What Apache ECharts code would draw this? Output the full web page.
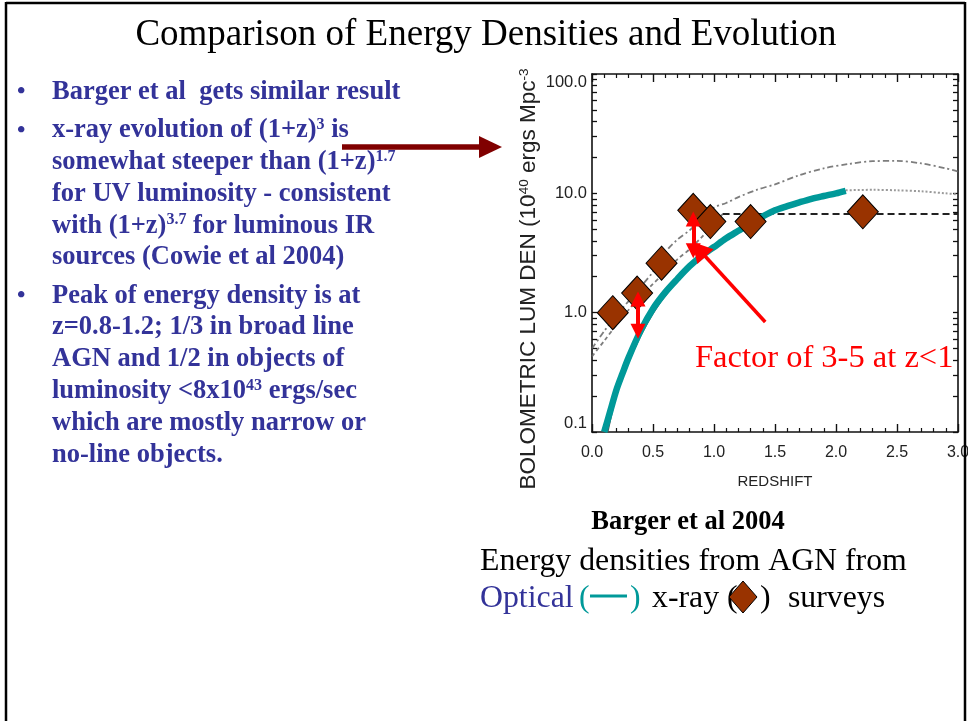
<!DOCTYPE html>
<html>
<head>
<meta charset="utf-8">
<script src="https://cdn.jsdelivr.net/npm/echarts@6/dist/echarts.min.js"></script>
<style>
  html, body { margin: 0; padding: 0; background: #ffffff; }
  #chart { width: 968px; height: 721px; }
</style>
</head>
<body>
<div id="chart"></div>
<script>
// AGN bolometric luminosity density vs redshift (Barger et al 2004)

// x-ray survey points (10^40 ergs Mpc^-3)
const xrayZ   = [0.17, 0.37, 0.57, 0.83, 0.97, 1.30, 2.22];
const xrayLum = [1.0, 1.46, 2.6, 7.2, 5.8, 5.8, 7.0];

// optical survey curve
const opticalZ   = [0.10, 0.15, 0.20, 0.25, 0.30, 0.40, 0.50, 0.60, 0.70, 0.80, 0.90, 1.00, 1.10, 1.20, 1.30, 1.40, 1.50, 1.60, 1.70, 1.80, 1.90, 2.00, 2.08];
const opticalLum = [0.10, 0.15, 0.225, 0.31, 0.42, 0.71, 1.08, 1.48, 1.92, 2.45, 3.0, 3.55, 4.2, 4.85, 5.6, 6.4, 7.2, 7.8, 8.4, 9.0, 9.5, 10.0, 10.5];

// thin grey model underneath the optical curve, and its dotted high-z extension
const modelLowZ    = [0.13, 0.20, 0.30, 0.40, 0.50, 0.60, 0.80, 1.00, 1.20, 1.50, 1.80, 2.08];
const modelLowLum  = [0.10, 0.20, 0.38, 0.64, 0.98, 1.38, 2.35, 3.5, 4.8, 7.1, 8.9, 10.5];
const modelHighZ   = [2.08, 2.30, 2.50, 2.70, 2.90, 3.00];
const modelHighLum = [10.6, 10.7, 10.6, 10.4, 10.0, 9.8];

// steeper dash-dot model
const steepZ   = [0.0, 0.1, 0.2, 0.3, 0.4, 0.5, 0.6, 0.7, 0.8, 0.9, 1.0, 1.1, 1.2, 1.35, 1.5, 1.7, 1.9, 2.1, 2.3, 2.5, 2.7, 2.9, 3.0];
const steepLum = [0.5, 0.7, 0.95, 1.25, 1.65, 2.2, 3.2, 4.1, 4.9, 6.2, 7.6, 8.3, 9.3, 10.7, 11.9, 14.2, 16.2, 17.6, 18.6, 18.7, 17.8, 16.2, 15.2];

// x-ray evolution model: rising part, then flat plateau
const riseZ     = [0.0, 0.1, 0.25, 0.35, 0.475, 0.6, 0.7, 0.8, 0.9, 1.0, 1.07];
const riseLum   = [0.43, 0.58, 0.92, 1.2, 1.64, 2.2, 2.8, 3.4, 4.3, 5.5, 6.7];
const plateauZ   = [1.07, 3.0];
const plateauLum = [6.7, 6.7];

// "factor of 3-5" arrows (shaft ends; arrow heads sit on top of these)
const factorZ      = [0.377, 0.83];
const factorTop    = [1.30, 6.1];
const factorBottom = [0.70, 3.3];
const pointerFrom  = [1.42, 0.835];
const pointerTo    = [0.875, 3.4];

// axis tick labels
const xTickLabels = ['0.0', '0.5', '1.0', '1.5', '2.0', '2.5', '3.0'];
const yTickLabels = ['0.1', '1.0', '10.0', '100.0'];

const pairs = (xs, ys) => xs.map((x, i) => [x, ys[i]]);

// log-axis tick marks: every decade plus 2..9 within each decade
const logTicks = [];
[0.1, 1, 10].forEach(d => { for (let k = 1; k <= 9; k++) logTicks.push(+(d * k).toFixed(3)); });
logTicks.push(100);

const AXIS_FONT = '"Liberation Sans", Arial, sans-serif';
const SERIF = '"Liberation Serif", "Times New Roman", serif';
const BLUE = '#333399';

// bullet text on the left
const bulletLines = [
  { t: 'Barger et al  gets similar result', bullet: true },
  { t: 'x-ray evolution of (1+z){s|3} is', bullet: true },
  { t: 'somewhat steeper than (1+z){s|1.7}' },
  { t: 'for UV luminosity - consistent' },
  { t: 'with (1+z){s|3.7} for luminous IR' },
  { t: 'sources (Cowie et al 2004)' },
  { t: 'Peak of energy density is at', bullet: true },
  { t: 'z=0.8-1.2; 1/3 in broad line' },
  { t: 'AGN and 1/2 in objects of' },
  { t: 'luminosity <8x10{s|43} ergs/sec' },
  { t: 'which are mostly narrow or' },
  { t: 'no-line objects.' }
];

function txt(x, y, text, font, fill, extra) {
  return {
    type: 'text', x: x, y: y, z: 100,
    style: Object.assign({
      text: text, font: font, fill: fill,
      textAlign: 'left', textVerticalAlign: 'middle',
      align: 'left', verticalAlign: 'middle'
    }, extra || {})
  };
}

const graphics = [];
// slide frame
graphics.push({ type: 'line', z: 100, shape: { x1: 6, y1: 2, x2: 6, y2: 721 }, style: { stroke: '#000', lineWidth: 2.5 } });
graphics.push({ type: 'line', z: 100, shape: { x1: 6, y1: 3, x2: 965, y2: 3 }, style: { stroke: '#000', lineWidth: 2.5 } });
graphics.push({ type: 'line', z: 100, shape: { x1: 965, y1: 2, x2: 965, y2: 721 }, style: { stroke: '#000', lineWidth: 2.5 } });

// title
graphics.push(txt(486, 35, 'Comparison of Energy Densities and Evolution', '37px ' + SERIF, '#000',
  { textAlign: 'center', align: 'center' }));

// bullets
let ly = 92;
bulletLines.forEach((ln, i) => {
  if (i > 0) ly += 31.8 + (ln.bullet ? 6.5 : 0);
  if (ln.bullet) graphics.push(txt(17, ly, '\u2022', 'bold 24px ' + SERIF, BLUE));
  graphics.push(txt(52, ly, ln.t, 'bold 26.5px ' + SERIF, BLUE, {
    rich: {
      s: { font: 'bold 16px ' + SERIF, fontSize: 16, fontWeight: 'bold', fontFamily: SERIF, fill: BLUE, verticalAlign: 'top' }
    }
  }));
});

// dark red pointer towards the plot
graphics.push({ type: 'line', z: 101, shape: { x1: 342, y1: 147, x2: 482, y2: 147 }, style: { stroke: '#800000', lineWidth: 5.5 } });
graphics.push({ type: 'polygon', z: 101, shape: { points: [[479, 136], [502, 147], [479, 158]] }, style: { fill: '#800000' } });

// y-axis title (rotated)
graphics.push({
  type: 'text', x: 529, y: 279, rotation: Math.PI / 2, z: 100,
  style: {
    text: 'BOLOMETRIC LUM DEN (10{s|40} ergs Mpc{s|-3}',
    font: '22.5px ' + AXIS_FONT, fill: '#222',
    textAlign: 'center', textVerticalAlign: 'middle', align: 'center', verticalAlign: 'middle',
    rich: { s: { font: '13.5px ' + AXIS_FONT, fontSize: 13.5, fontFamily: AXIS_FONT, fill: '#222', verticalAlign: 'top' } }
  }
});

// annotation inside the plot
graphics.push(txt(695, 358, 'Factor of 3-5 at z<1', '32.5px ' + SERIF, '#ff0000'));

// captions under the plot
graphics.push(txt(688, 522, 'Barger et al 2004', 'bold 26.5px ' + SERIF, '#000', { textAlign: 'center', align: 'center' }));
graphics.push(txt(480, 562, 'Energy densities from AGN from', '31.8px ' + SERIF, '#000'));
graphics.push(txt(480, 599, 'Optical', '31.8px ' + SERIF, BLUE));
graphics.push(txt(579, 599, '(', '31.8px ' + SERIF, '#009999'));
graphics.push({ type: 'line', z: 100, shape: { x1: 590, y1: 596, x2: 627, y2: 596 }, style: { stroke: '#009999', lineWidth: 3 } });
graphics.push(txt(630, 599, ')', '31.8px ' + SERIF, '#009999'));
graphics.push(txt(652, 599, 'x-ray (', '31.8px ' + SERIF, '#000'));
graphics.push({ type: 'polygon', z: 101, shape: { points: [[743, 581], [757, 597], [743, 613], [729, 597]] }, style: { fill: '#993300', stroke: '#000', lineWidth: 1 } });
graphics.push(txt(760, 599, ')', '31.8px ' + SERIF, '#000'));
graphics.push(txt(788, 599, 'surveys', '31.8px ' + SERIF, '#000'));

const xAxisBase = {
  type: 'value', min: 0, max: 3, interval: 0.5, gridIndex: 0, offset: 0,
  axisLine: { show: true, onZero: false, lineStyle: { color: '#111', width: 1.6 } },
  axisTick: { show: true, inside: true, length: 8, lineStyle: { color: '#111', width: 1.4 } },
  minorTick: { show: true, splitNumber: 5, length: 4, lineStyle: { color: '#111', width: 1.2 } },
  splitLine: { show: false }
};

const yAxisBase = {
  type: 'log', logBase: 10, min: 0.1, max: 100, gridIndex: 0, offset: 0,
  axisLine: { show: true, onZero: false, lineStyle: { color: '#111', width: 1.6 } },
  axisTick: { show: true, inside: true, length: 5, customValues: logTicks, lineStyle: { color: '#111', width: 1.3 } },
  splitLine: { show: false }
};

const option = {
  animation: false,
  backgroundColor: '#ffffff',
  grid: { left: 592, top: 74, width: 366, height: 358, containLabel: false, outerBoundsMode: 'none' },
  xAxis: [
    Object.assign({}, xAxisBase, {
      position: 'bottom',
      name: 'REDSHIFT', nameLocation: 'middle', nameGap: 42,
      nameTextStyle: { fontFamily: AXIS_FONT, fontSize: 15, color: '#222' },
      axisLabel: {
        show: true, margin: 13, fontFamily: AXIS_FONT, fontSize: 16, color: '#222',
        formatter: v => xTickLabels[Math.round(v / 0.5)]
      }
    }),
    Object.assign({}, xAxisBase, { position: 'top', axisLabel: { show: false } })
  ],
  yAxis: [
    Object.assign({}, yAxisBase, {
      position: 'left',
      axisLabel: {
        show: true, margin: 5, fontFamily: AXIS_FONT, fontSize: 16.5, color: '#222',
        verticalAlignMinLabel: 'bottom', verticalAlignMaxLabel: 'top',
        formatter: v => yTickLabels[Math.round(Math.log10(v)) + 1]
      }
    }),
    Object.assign({}, yAxisBase, { position: 'right', axisLabel: { show: false } })
  ],
  series: [
    {
      name: 'model', type: 'line', data: pairs(modelLowZ, modelLowLum), showSymbol: false, smooth: 0.3, z: 2,
      lineStyle: { color: '#555', width: 1.3 }
    },
    {
      name: 'model high z', type: 'line', data: pairs(modelHighZ, modelHighLum), showSymbol: false, smooth: 0.3, z: 2,
      lineStyle: { color: '#9a9a9a', width: 2, type: [2, 2] }
    },
    {
      name: 'steep', type: 'line', data: pairs(steepZ, steepLum), showSymbol: false, smooth: 0.3, z: 2,
      lineStyle: { color: '#666', width: 1.8, type: [6, 3, 2, 3], opacity: 0.85 }
    },
    {
      name: 'x-ray model', type: 'line', data: pairs(riseZ, riseLum), showSymbol: false, smooth: 0.3, z: 2,
      lineStyle: { color: '#666', width: 1.8, type: [4, 3], opacity: 0.85 }
    },
    {
      name: 'plateau', type: 'line', data: pairs(plateauZ, plateauLum), showSymbol: false, z: 2,
      lineStyle: { color: '#222', width: 2, type: [7, 4] }
    },
    {
      name: 'Optical', type: 'line', data: pairs(opticalZ, opticalLum), showSymbol: false, smooth: 0.3, z: 3,
      lineStyle: { color: '#009999', width: 6.5, cap: 'butt' }
    },
    {
      name: 'x-ray', type: 'scatter', data: pairs(xrayZ, xrayLum), z: 4,
      symbol: 'diamond', symbolSize: [31, 34],
      itemStyle: { color: '#993300', borderColor: '#000', borderWidth: 1, opacity: 1 }
    },
    {
      name: 'factor', type: 'scatter', data: [], z: 5,
      markLine: {
        silent: true, animation: false, z: 6,
        symbol: ['triangle', 'triangle'], symbolSize: [15, 15],
        label: { show: false },
        lineStyle: { color: '#ff0000', width: 4, type: 'solid' },
        emphasis: { disabled: true },
        data: factorZ.map((z, i) => [
          { coord: [z, factorTop[i]] },
          { coord: [z, factorBottom[i]] }
        ]).concat([[
          { coord: pointerFrom, symbol: 'none', lineStyle: { width: 3.5 } },
          { coord: pointerTo, symbol: 'triangle', symbolSize: [22, 20] }
        ]])
      }
    }
  ],
  graphic: graphics
};

const chart = echarts.init(document.getElementById('chart'), null, { renderer: 'canvas' });
chart.setOption(option);
</script>
</body>
</html>
